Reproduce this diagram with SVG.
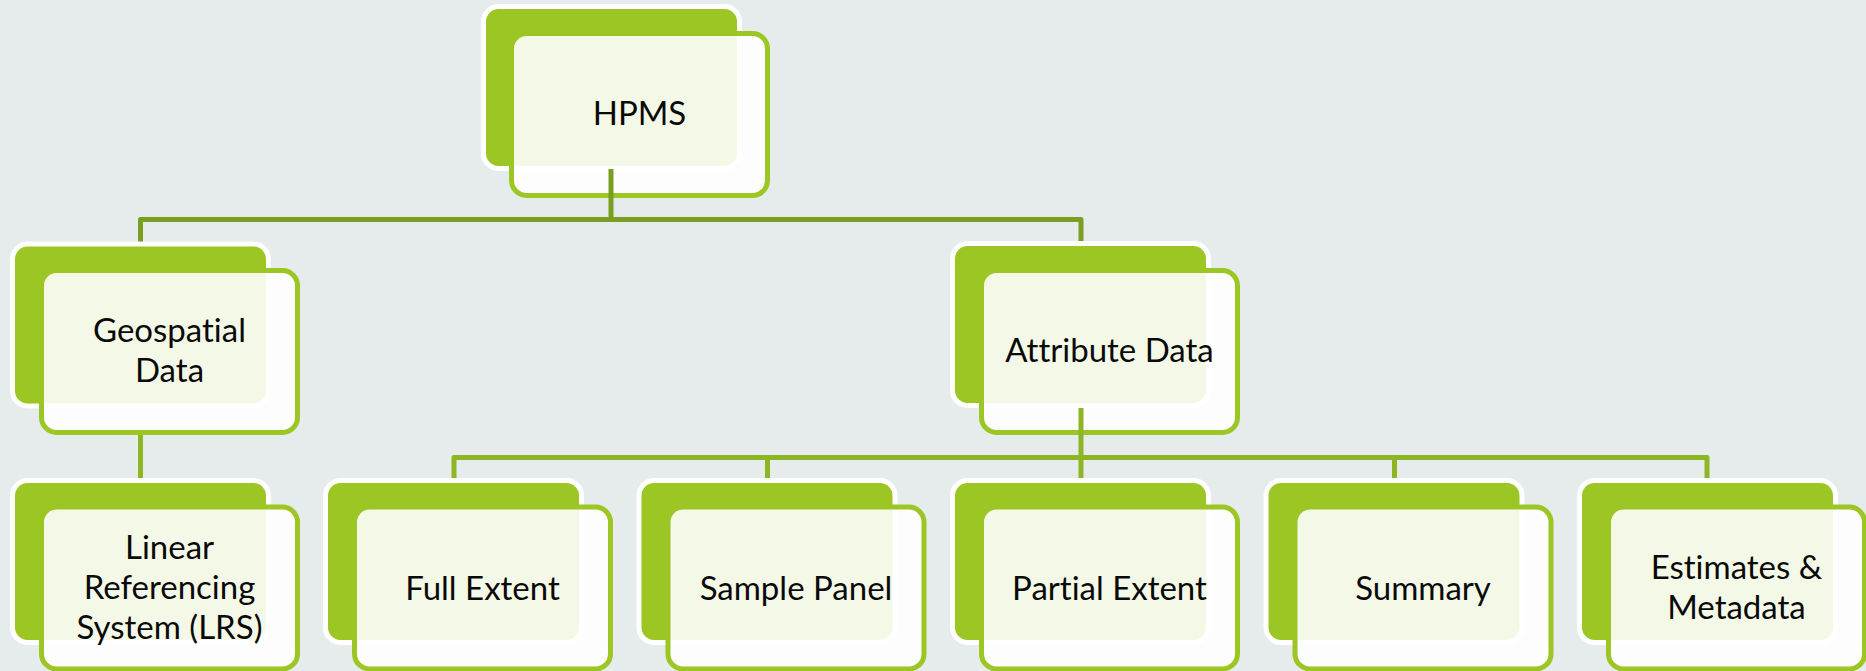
<svg xmlns="http://www.w3.org/2000/svg" width="1866" height="671" viewBox="0 0 1866 671">
<style>
.back{fill:#9bc624;stroke:#ffffff;stroke-width:5}
.front{fill:#ffffff;fill-opacity:0.89;stroke:#9bc624;stroke-width:5}
.lbl{font-family:Lato,"Liberation Sans",sans-serif;font-size:33px;fill:#0a0a0a;text-anchor:middle;font-variant-ligatures:none;font-feature-settings:"liga" 0}
.c1{fill:none;stroke:#7a9f20;stroke-width:5;stroke-linejoin:round}
.c2{fill:none;stroke:#8cb623;stroke-width:5;stroke-linejoin:round}
</style>
<rect x="0" y="0" width="1866" height="671" fill="#e6ebeb"/>
<g id="node-hpms">
<rect class="back" x="483.5" y="6.5" width="256" height="162" rx="15"/>
<rect class="front" x="511.5" y="33.5" width="256" height="162" rx="15"/>
<text class="lbl" x="639.5" y="125">HPMS</text>
</g>
<g id="node-geospatial">
<rect class="back" x="12.5" y="244" width="256" height="162" rx="15"/>
<rect class="front" x="41.5" y="270.5" width="256" height="162" rx="15"/>
<text class="lbl" x="169.5" y="342">Geospatial</text>
<text class="lbl" x="169.5" y="382">Data</text>
</g>
<g id="node-attribute">
<rect class="back" x="952.5" y="243.5" width="256" height="162" rx="15"/>
<rect class="front" x="981.5" y="270.5" width="256" height="162" rx="15"/>
<text class="lbl" x="1109.5" y="362">Attribute Data</text>
</g>
<g id="node-lrs">
<rect class="back" x="12.5" y="480.5" width="256" height="162" rx="15"/>
<rect class="front" x="41.5" y="507" width="256" height="162" rx="15"/>
<text class="lbl" x="169.5" y="559">Linear</text>
<text class="lbl" x="169.5" y="599">Referencing</text>
<text class="lbl" x="169.5" y="639">System (LRS)</text>
</g>
<g id="node-full-extent">
<rect class="back" x="325.5" y="480.5" width="256" height="162" rx="15"/>
<rect class="front" x="354.5" y="507" width="256" height="162" rx="15"/>
<text class="lbl" x="482.5" y="600">Full Extent</text>
</g>
<g id="node-sample-panel">
<rect class="back" x="639" y="480.5" width="256" height="162" rx="15"/>
<rect class="front" x="668" y="507" width="256" height="162" rx="15"/>
<text class="lbl" x="796" y="600">Sample Panel</text>
</g>
<g id="node-partial-extent">
<rect class="back" x="952.5" y="480.5" width="256" height="162" rx="15"/>
<rect class="front" x="981.5" y="507" width="256" height="162" rx="15"/>
<text class="lbl" x="1109.5" y="600">Partial Extent</text>
</g>
<g id="node-summary">
<rect class="back" x="1266" y="480.5" width="256" height="162" rx="15"/>
<rect class="front" x="1295" y="507" width="256" height="162" rx="15"/>
<text class="lbl" x="1423" y="600">Summary</text>
</g>
<g id="node-estimates">
<rect class="back" x="1579.5" y="480.5" width="256" height="162" rx="15"/>
<rect class="front" x="1608.5" y="507" width="256" height="162" rx="15"/>
<text class="lbl" x="1736.5" y="579">Estimates &amp;</text>
<text class="lbl" x="1736.5" y="619">Metadata</text>
</g>
<g id="connectors">
<path class="c1" d="M611,169 V219.5"/>
<path class="c1" d="M140.5,241.5 V219.5 H1081 V241"/>
<path class="c2" d="M140.5,435 V478"/>
<path class="c2" d="M1081,408 V478"/>
<path class="c2" d="M454,478 V457.5 H1707 V478"/>
<path class="c2" d="M767.5,457.5 V478"/>
<path class="c2" d="M1394.5,457.5 V478"/>
</g>
</svg>
